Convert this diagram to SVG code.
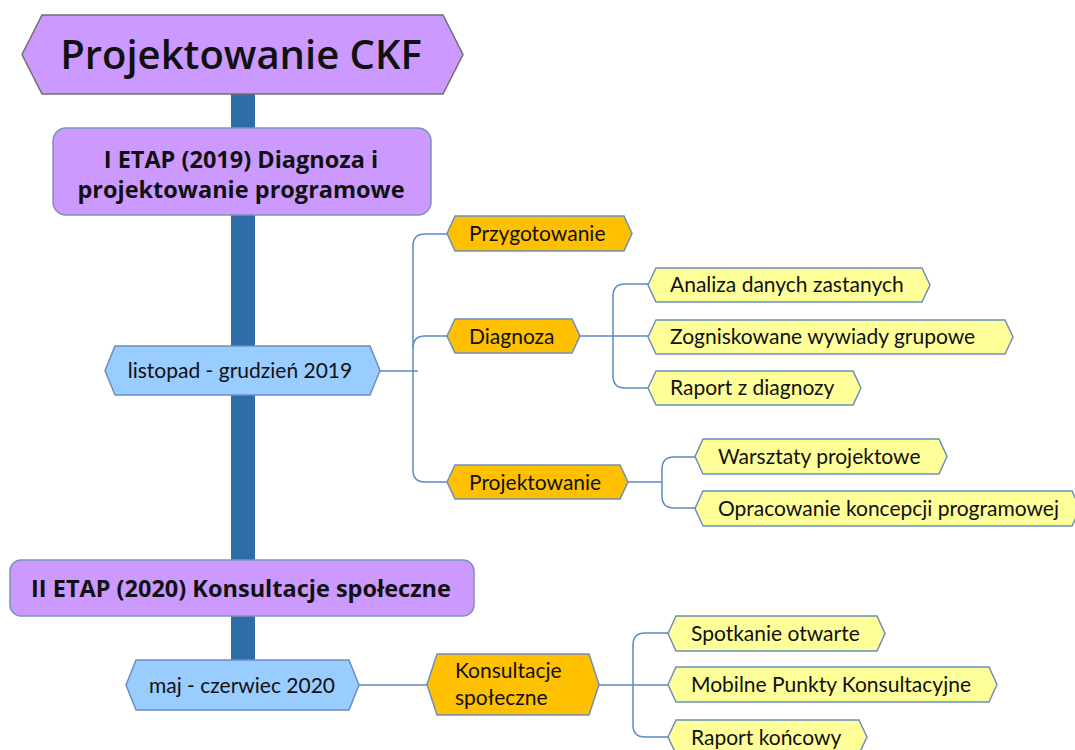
<svg xmlns="http://www.w3.org/2000/svg" width="1075" height="750" viewBox="0 0 1075 750">
<style>
.purple{fill:#CC99FF;stroke:#7A92B8;stroke-width:1.5}
.title{fill:#CC99FF;stroke:#6F6F6F;stroke-width:1.5}
.blue{fill:#99CCFF;stroke:#6C8EBF;stroke-width:1.5}
.orange{fill:#FFC000;stroke:#6C8EBF;stroke-width:1.5}
.yellow{fill:#FFFF99;stroke:#6C8EBF;stroke-width:1.5}
.conn{fill:none;stroke:#5B8BC5;stroke-width:1.5}
.t{font-family:Lato,"Liberation Sans",sans-serif;font-size:21px;fill:#111}
.b{font-family:"Open Sans","Liberation Sans",sans-serif;font-weight:700;font-size:23.5px;fill:#111;text-anchor:middle}
</style>
<rect x="231" y="94" width="24" height="566" fill="#2E6DA8"/>
<g id="connectors">
<path class="conn" d="M380,371 H418"/>
<path class="conn" d="M447,234 H425 Q413,234 413,246 V470 Q413,482 425,482 H447"/>
<path class="conn" d="M413,348 Q413,336 425,336 H447"/>
<path class="conn" d="M580,336 H648"/>
<path class="conn" d="M648,284 H625 Q613,284 613,296 V376 Q613,388 625,388 H648"/>
<path class="conn" d="M628,482 H662"/>
<path class="conn" d="M695,457 H674 Q662,457 662,469 V496 Q662,508 674,508 H695"/>
<path class="conn" d="M359,685 H427"/>
<path class="conn" d="M599,685 H668"/>
<path class="conn" d="M668,633 H645 Q633,633 633,645 V725 Q633,737 645,737 H668"/>
</g>
<g id="title">
<path class="title" d="M22,54.5 L42,15 H443 L463,54.5 L443,94 H42 Z"/>
<text x="241" y="69" font-family="'Open Sans','Liberation Sans',sans-serif" font-weight="600" font-size="40" text-anchor="middle" fill="#111">Projektowanie CKF</text>
</g>
<g id="etap1">
<rect class="purple" x="53" y="128" width="378" height="87" rx="13"/>
<text class="b" x="241" y="168">I ETAP (2019) Diagnoza i</text>
<text class="b" x="241" y="198">projektowanie programowe</text>
</g>
<g id="listopad">
<path class="blue" d="M105,370.5 L115,346 H370 L380,370.5 L370,395 H115 Z"/>
<text class="t" x="240" y="378" text-anchor="middle">listopad - grudzień 2019</text>
</g>
<g id="przygotowanie">
<path class="orange" d="M447,233.5 L455,216 H624 L632,233.5 L624,251 H455 Z"/>
<text class="t" x="469" y="241">Przygotowanie</text>
</g>
<g id="diagnoza">
<path class="orange" d="M447,336 L455,319 H572 L580,336 L572,353 H455 Z"/>
<text class="t" x="469" y="344">Diagnoza</text>
</g>
<g id="projektowanie">
<path class="orange" d="M447,482 L455,465 H620 L628,482 L620,499 H455 Z"/>
<text class="t" x="469" y="490">Projektowanie</text>
</g>
<g id="analiza">
<path class="yellow" d="M648,285 L656,268 H922 L930,285 L922,302 H656 Z"/>
<text class="t" x="670" y="292">Analiza danych zastanych</text>
</g>
<g id="zogniskowane">
<path class="yellow" d="M648,337 L656,320 H1005 L1013,337 L1005,354 H656 Z"/>
<text class="t" x="670" y="344">Zogniskowane wywiady grupowe</text>
</g>
<g id="raport-diagnozy">
<path class="yellow" d="M648,388 L656,371 H853 L861,388 L853,405 H656 Z"/>
<text class="t" x="670" y="395">Raport z diagnozy</text>
</g>
<g id="warsztaty">
<path class="yellow" d="M695,456.5 L703,439 H939 L947,456.5 L939,474 H703 Z"/>
<text class="t" x="718" y="464">Warsztaty projektowe</text>
</g>
<g id="opracowanie">
<path class="yellow" d="M695,508.5 L703,491 H1072 L1080,508.5 L1072,526 H703 Z"/>
<text class="t" x="718" y="516">Opracowanie koncepcji programowej</text>
</g>
<g id="etap2">
<rect class="purple" x="10" y="560" width="464" height="56" rx="11"/>
<text class="b" x="241" y="597">II ETAP (2020) Konsultacje społeczne</text>
</g>
<g id="maj">
<path class="blue" d="M126,685 L136,660 H349 L359,685 L349,710 H136 Z"/>
<text class="t" x="242" y="693" text-anchor="middle">maj - czerwiec 2020</text>
</g>
<g id="konsultacje">
<path class="orange" d="M427,684.5 L437,654 H589 L599,684.5 L589,715 H437 Z"/>
<text class="t" x="455" y="678">Konsultacje</text>
<text class="t" x="455" y="705">społeczne</text>
</g>
<g id="spotkanie">
<path class="yellow" d="M668,633.5 L676,616 H877 L885,633.5 L877,651 H676 Z"/>
<text class="t" x="691" y="641">Spotkanie otwarte</text>
</g>
<g id="mobilne">
<path class="yellow" d="M668,684.5 L676,667 H989 L997,684.5 L989,702 H676 Z"/>
<text class="t" x="691" y="692">Mobilne Punkty Konsultacyjne</text>
</g>
<g id="raport-koncowy">
<path class="yellow" d="M668,737 L676,720 H859 L867,737 L859,754 H676 Z"/>
<text class="t" x="691" y="745">Raport końcowy</text>
</g>
</svg>
